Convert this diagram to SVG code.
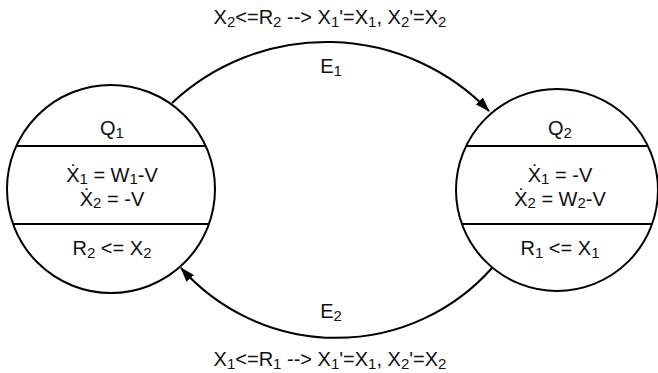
<svg xmlns="http://www.w3.org/2000/svg" width="658" height="373" viewBox="0 0 658 373">
<style>
  .shape { fill: #ffffff; stroke: #000000; stroke-width: 2; }
  .div { stroke: #000000; stroke-width: 2; fill: none; }
  .edge { fill: none; stroke: #000000; stroke-width: 2; }
  text { font-family: "Liberation Sans", Arial, sans-serif; font-size: 20px; fill: #111111; text-anchor: middle; }
  .sub { font-size: 15px; }
</style>
<defs>
  <marker id="arrow" viewBox="0 0 15 10" refX="14" refY="5" markerWidth="15" markerHeight="10" markerUnits="userSpaceOnUse" orient="auto">
    <path d="M0,0 L15,5 L0,10 z" fill="#000000"/>
  </marker>
</defs>

<g id="connectors">
  <g id="E1">
    <path class="edge" d="M172,103 A226,226 0 0 1 489,111" marker-end="url(#arrow)"/>
    <text x="331" y="73">E<tspan class="sub" dy="3">1</tspan></text>
    <text x="330" y="24">X<tspan class="sub" dy="3">2</tspan><tspan dy="-3">&lt;=R</tspan><tspan class="sub" dy="3">2</tspan><tspan dy="-3"> --&gt; X</tspan><tspan class="sub" dy="3">1</tspan><tspan dy="-3">'=X</tspan><tspan class="sub" dy="3">1</tspan><tspan dy="-3">, X</tspan><tspan class="sub" dy="3">2</tspan><tspan dy="-3">'=X</tspan><tspan class="sub" dy="3">2</tspan></text>
  </g>
  <g id="E2">
    <path class="edge" d="M492,268 A208,208 0 0 1 181,268" marker-end="url(#arrow)"/>
    <text x="331" y="318">E<tspan class="sub" dy="3">2</tspan></text>
    <text x="330" y="366">X<tspan class="sub" dy="3">1</tspan><tspan dy="-3">&lt;=R</tspan><tspan class="sub" dy="3">1</tspan><tspan dy="-3"> --&gt; X</tspan><tspan class="sub" dy="3">1</tspan><tspan dy="-3">'=X</tspan><tspan class="sub" dy="3">1</tspan><tspan dy="-3">, X</tspan><tspan class="sub" dy="3">2</tspan><tspan dy="-3">'=X</tspan><tspan class="sub" dy="3">2</tspan></text>
  </g>
</g>

<g id="Q1">
  <circle class="shape" cx="111" cy="189" r="104"/>
  <line class="div" x1="16" y1="146" x2="206" y2="146"/>
  <line class="div" x1="13" y1="224" x2="209" y2="224"/>
  <text x="112" y="135">Q<tspan class="sub" dy="3">1</tspan></text>
  <text x="112" y="182">Ẋ<tspan class="sub" dy="2">1</tspan><tspan dy="-2"> = W</tspan><tspan class="sub" dy="2">1</tspan><tspan dy="-2">-V</tspan></text>
  <text x="112" y="206">Ẋ<tspan class="sub" dy="2">2</tspan><tspan dy="-2"> = -V</tspan></text>
  <text x="112" y="255">R<tspan class="sub" dy="3">2</tspan><tspan dy="-3"> &lt;= X</tspan><tspan class="sub" dy="3">2</tspan></text>
</g>

<g id="Q2">
  <circle class="shape" cx="557" cy="190" r="101"/>
  <line class="div" x1="466" y1="146" x2="648" y2="146"/>
  <line class="div" x1="462" y1="224" x2="652" y2="224"/>
  <text x="560" y="135">Q<tspan class="sub" dy="3">2</tspan></text>
  <text x="560" y="182">Ẋ<tspan class="sub" dy="2">1</tspan><tspan dy="-2"> = -V</tspan></text>
  <text x="560" y="206">Ẋ<tspan class="sub" dy="2">2</tspan><tspan dy="-2"> = W</tspan><tspan class="sub" dy="2">2</tspan><tspan dy="-2">-V</tspan></text>
  <text x="560" y="255">R<tspan class="sub" dy="3">1</tspan><tspan dy="-3"> &lt;= X</tspan><tspan class="sub" dy="3">1</tspan></text>
</g>
</svg>
